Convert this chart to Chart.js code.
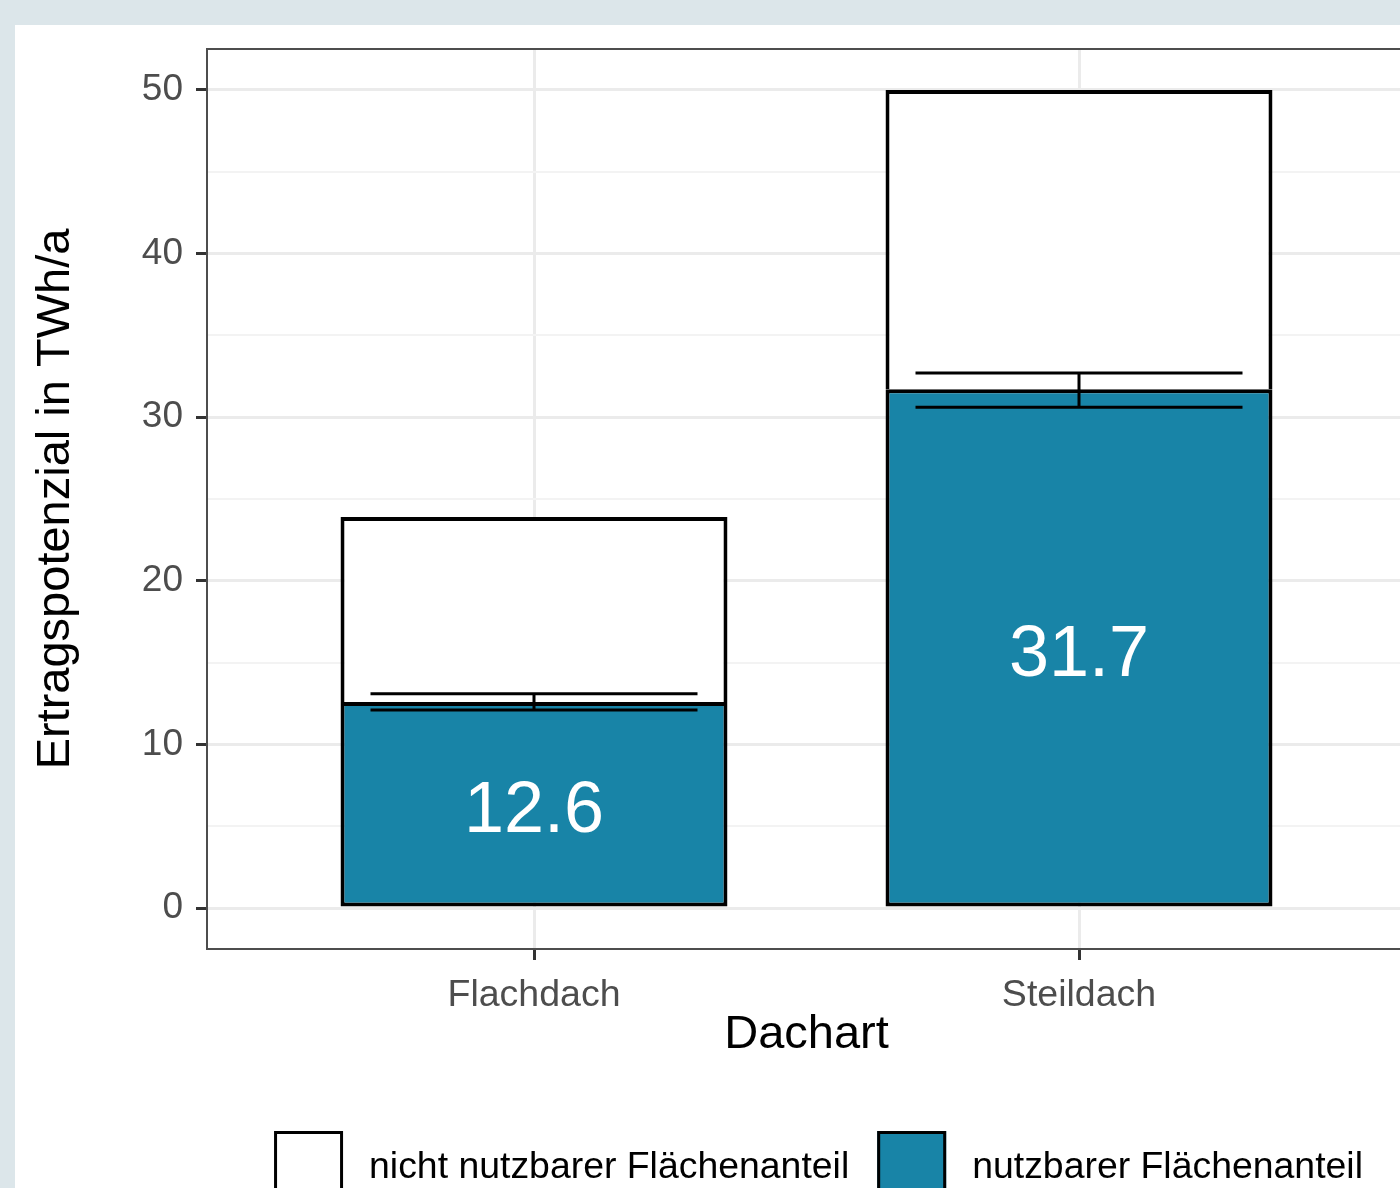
<!DOCTYPE html>
<html lang="de">
<head>
<meta charset="utf-8">
<title>Ertragspotenzial nach Dachart</title>
<script src="https://cdn.jsdelivr.net/npm/chart.js@4/dist/chart.umd.min.js"></script>
<style>
  html, body { margin: 0; padding: 0; overflow: hidden; background: #dce6ea; width: 1400px; height: 1188px; }
  #wrap { position: absolute; left: 15px; top: 25px; width: 1420px; height: 1163px; background: #ffffff; }
</style>
</head>
<body>
<div id="wrap"><canvas id="potChart" width="1420" height="1163"></canvas></div>
<script>
// Daten
const categories = ['Flachdach', 'Steildach'];
const nutzbar = [12.6, 31.7];        // nutzbarer Flächenanteil, TWh/a
const gesamt = [23.9, 50.0];         // Gesamtpotenzial (Oberkante Balken)
const fehlerUnten = [12.1, 30.6];    // Fehlerbalken unten
const fehlerOben = [13.1, 32.7];     // Fehlerbalken oben
const yTicks = [0, 10, 20, 30, 40, 50];
const yMinorTicks = [5, 15, 25, 35, 45];

const nichtNutzbar = gesamt.map((g, i) => +(g - nutzbar[i]).toFixed(1));

const TEAL = '#1884a7';
const FONT = 'Liberation Sans, Arial, sans-serif';

// Fehlerbalken, Wertbeschriftung, Rahmen und Legende
const extras = {
  id: 'extras',
  afterDatasetsDraw(chart) {
    const ctx = chart.ctx;
    const x = chart.scales.x, y = chart.scales.y;
    ctx.save();
    // Fehlerbalken
    ctx.strokeStyle = '#000';
    ctx.lineWidth = 3;
    categories.forEach((c, i) => {
      const xl = x.getPixelForValue(i + 1 - 0.3);
      const xr = x.getPixelForValue(i + 1 + 0.3);
      const xm = x.getPixelForValue(i + 1);
      const yl = y.getPixelForValue(fehlerUnten[i]);
      const yh = y.getPixelForValue(fehlerOben[i]);
      ctx.beginPath();
      ctx.moveTo(xl, yh); ctx.lineTo(xr, yh);
      ctx.moveTo(xl, yl); ctx.lineTo(xr, yl);
      ctx.moveTo(xm, yl); ctx.lineTo(xm, yh);
      ctx.stroke();
    });
    // Werte in den Balken (Ziffern vertikal zentriert)
    ctx.fillStyle = '#fff';
    ctx.font = '72px ' + FONT;
    ctx.textAlign = 'center';
    ctx.textBaseline = 'alphabetic';
    categories.forEach((c, i) => {
      ctx.fillText(nutzbar[i].toFixed(1), x.getPixelForValue(i + 1), y.getPixelForValue(nutzbar[i] / 2) + 27);
    });
    ctx.restore();
  },
  afterDraw(chart) {
    const ctx = chart.ctx;
    const a = chart.chartArea;
    ctx.save();
    // Panelrahmen
    ctx.strokeStyle = '#4d4d4d';
    ctx.lineWidth = 2;
    ctx.strokeRect(a.left, a.top, a.right - a.left, a.bottom - a.top);
    // Legende (unten, zentriert)
    const items = chart.data.datasets.slice().reverse();
    const box = 69, gapText = 26, gapItem = 28;
    ctx.font = '37.4px ' + FONT;
    const widths = items.map(d => ctx.measureText(d.label).width);
    const total = items.length * (box + gapText) + widths.reduce((s, w) => s + w, 0) + gapItem * (items.length - 1);
    let lx = (a.left + a.right) / 2 + 12 - total / 2;
    const top = a.bottom + 182;
    ctx.textBaseline = 'middle';
    ctx.textAlign = 'left';
    items.forEach((d, i) => {
      ctx.fillStyle = d.backgroundColor;
      ctx.fillRect(lx, top, box, box);
      ctx.strokeStyle = '#000';
      ctx.lineWidth = 3;
      ctx.strokeRect(lx + 1.5, top + 1.5, box - 3, box - 3);
      lx += box + gapText;
      ctx.fillStyle = '#000';
      ctx.fillText(d.label, lx, top + box / 2 + 2);
      lx += widths[i] + gapItem;
    });
    ctx.restore();
  }
};

new Chart(document.getElementById('potChart'), {
  type: 'bar',
  data: {
    datasets: [
      {
        label: 'nutzbarer Flächenanteil',
        data: nutzbar.map((v, i) => ({ x: i + 1, y: v })),
        stack: 'dach',
        backgroundColor: TEAL,
        borderColor: '#000',
        borderWidth: 4,
        borderSkipped: false
      },
      {
        label: 'nicht nutzbarer Flächenanteil',
        data: nichtNutzbar.map((v, i) => ({ x: i + 1, y: v })),
        stack: 'dach',
        backgroundColor: '#ffffff',
        borderColor: '#000',
        borderWidth: 4,
        borderSkipped: 'bottom'
      }
    ]
  },
  options: {
    responsive: false,
    animation: false,
    devicePixelRatio: 1,
    categoryPercentage: 1,
    barPercentage: 0.71,
    layout: { padding: { left: 0, top: 24, right: 29, bottom: 125 } },
    plugins: { legend: { display: false }, tooltip: { enabled: false } },
    scales: {
      x: {
        type: 'linear',
        min: 0.4,
        max: 2.6,
        offset: false,
        afterBuildTicks: s => { s.ticks = categories.map((c, i) => ({ value: i + 1 })); },
        afterFit: s => { s.height = 114; s.paddingLeft = 0; s.paddingRight = 0; },
        ticks: {
          autoSkip: false,
          maxRotation: 0,
          padding: 13,
          color: '#4d4d4d',
          font: { family: FONT, size: 37.5 },
          callback: v => categories[v - 1]
        },
        grid: { offset: false, color: '#ebebeb', lineWidth: 3, tickLength: 11, tickColor: '#333', tickWidth: 3 },
        border: { display: false },
        title: { display: true, text: 'Dachart', color: '#000', font: { family: FONT, size: 47 }, padding: { top: 0, bottom: 0 } }
      },
      y: {
        min: -2.5,
        max: 52.5,
        stacked: true,
        afterBuildTicks: s => {
          s.ticks = yTicks.concat(yMinorTicks).sort((p, q) => p - q).map(v => ({ value: v }));
        },
        afterFit: s => { s.width = 192; s.paddingTop = 0; s.paddingBottom = 0; },
        ticks: {
          autoSkip: false,
          padding: 13,
          color: '#4d4d4d',
          font: { family: FONT, size: 37 },
          callback: v => (yTicks.includes(v) ? String(v) : '')
        },
        grid: {
          color: c => (yTicks.includes(c.tick && c.tick.value) ? '#ebebeb' : '#f3f3f3'),
          lineWidth: c => (yTicks.includes(c.tick && c.tick.value) ? 3 : 2),
          tickLength: 11,
          tickColor: c => (yTicks.includes(c.tick && c.tick.value) ? '#333' : 'rgba(0,0,0,0)'),
          tickWidth: 3
        },
        border: { display: false },
        title: { display: true, text: 'Ertragspotenzial in TWh/a', color: '#000', font: { family: FONT, size: 47 }, padding: { top: 13, bottom: 0 } }
      }
    }
  },
  plugins: [extras]
});
</script>
</body>
</html>
